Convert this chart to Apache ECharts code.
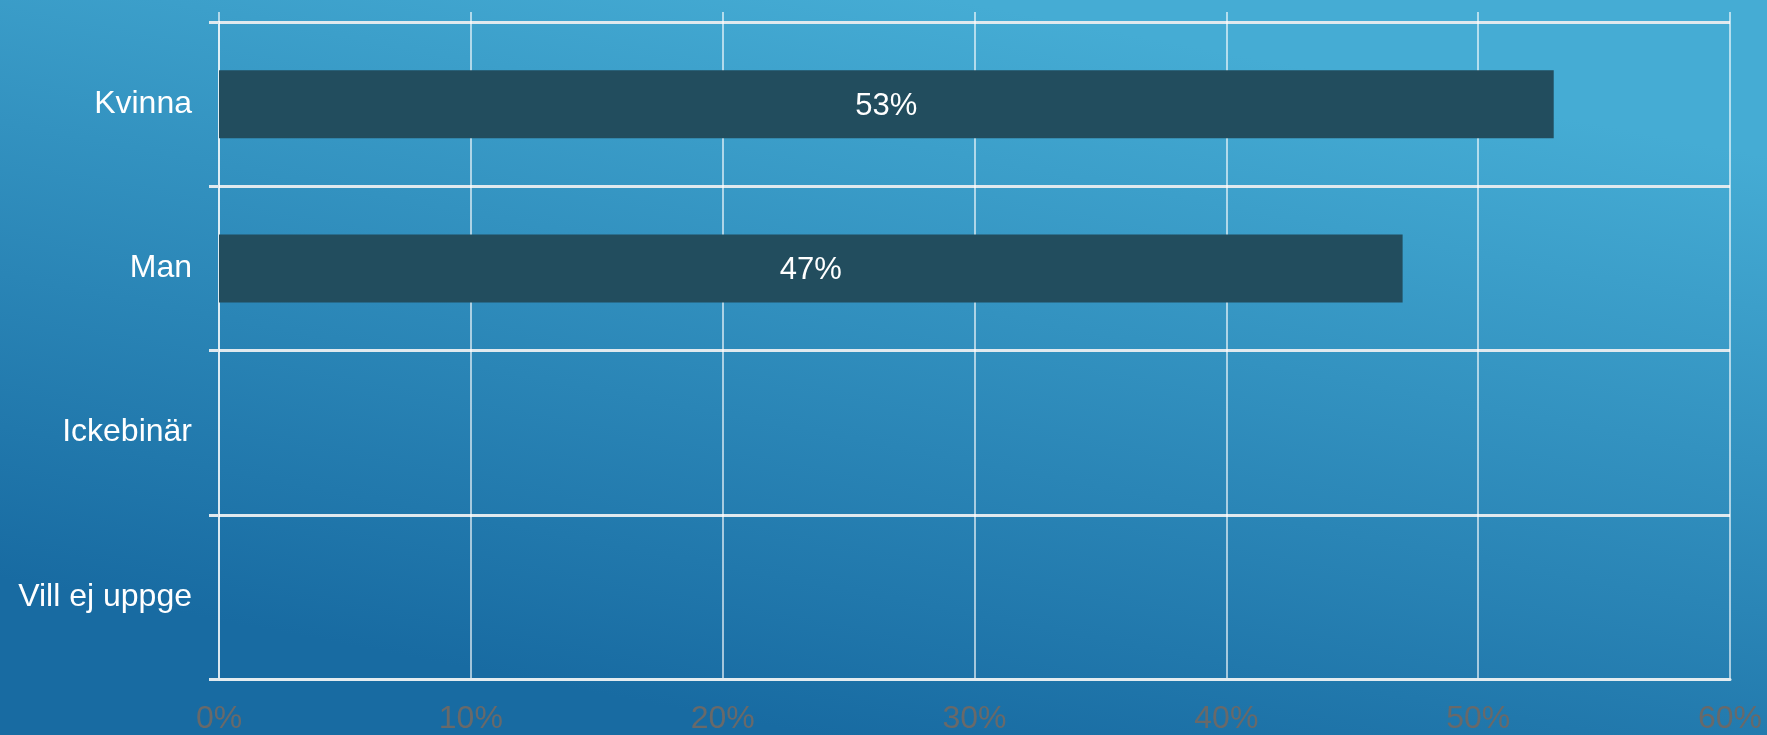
<!DOCTYPE html>
<html>
<head>
<meta charset="utf-8">
<script src="https://cdn.jsdelivr.net/npm/echarts@6/dist/echarts.min.js"></script>
<style>
  html, body { margin: 0; padding: 0; }
  #chart { width: 1767px; height: 735px; }
</style>
</head>
<body>
<div id="chart"></div>
<script>
const categories = ["Kvinna", "Man", "Ickebinär", "Vill ej uppge"];
const shares = [53, 47, null, null];
const xTicks = [0, 10, 20, 30, 40, 50, 60];

const font = "'Liberation Sans', Arial, sans-serif";
const gridLine = "rgba(255,255,255,0.6)";

const chart = echarts.init(document.getElementById("chart"));
chart.setOption({
  backgroundColor: new echarts.graphic.LinearGradient(0.46, 1, 0.54, 0, [
    { offset: 0, color: "#186ba2" },
    { offset: 1, color: "#45acd4" },
  ]),
  animation: false,
  grid: { left: 219, right: 37, top: 22, bottom: 56 },
  xAxis: [
    {
      type: "value",
      min: xTicks[0],
      max: xTicks[xTicks.length - 1],
      interval: 10,
      axisLine: { show: true, lineStyle: { color: "#e4ecf0", width: 3 } },
      axisTick: { show: false },
      axisLabel: {
        formatter: "{value}%",
        color: "#696969",
        fontFamily: font,
        fontSize: 32,
        margin: 24,
      },
      splitLine: { show: true, lineStyle: { color: gridLine, width: 2 } },
    },
    {
      // just gives the short stubs above the plot top
      type: "value",
      position: "top",
      min: xTicks[0],
      max: xTicks[xTicks.length - 1],
      interval: 10,
      axisLine: { show: false },
      axisTick: { show: true, length: 10, lineStyle: { color: gridLine, width: 2 } },
      axisLabel: { show: false },
      splitLine: { show: false },
    },
  ],
  yAxis: {
    type: "category",
    data: categories,
    inverse: true,
    axisLine: { show: true, lineStyle: { color: gridLine, width: 2 } },
    axisTick: { show: true, length: 10, lineStyle: { color: "#e0e9ee", width: 3 } },
    axisLabel: { color: "#ffffff", fontFamily: font, fontSize: 32, margin: 27 },
    splitLine: { show: true, lineStyle: { color: "#e0e9ee", width: 3 } },
  },
  series: [
    {
      type: "bar",
      data: shares,
      barWidth: 68,
      itemStyle: { color: "#224d5e" },
      label: {
        show: true,
        position: "inside",
        formatter: "{c}%",
        color: "#ffffff",
        fontFamily: font,
        fontSize: 31,
        offset: [0, 2],
      },
    },
  ],
});
</script>
</body>
</html>
